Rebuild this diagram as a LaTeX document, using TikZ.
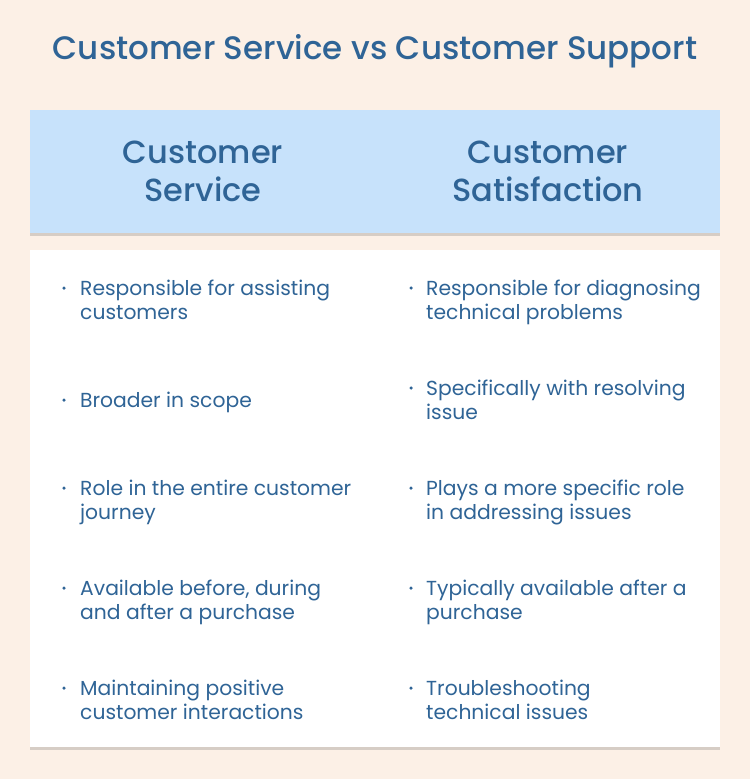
\documentclass[tikz,border=0pt]{standalone}
\usepackage{fontspec}
\setmainfont{Poppins}
\newfontfamily\pmed{Poppins Medium}
\usetikzlibrary{shadows}
\definecolor{bg}{HTML}{FCF0E6}
\definecolor{ink}{HTML}{2F6496}
\definecolor{head}{HTML}{C7E2FB}
\tikzset{
  card/.style={draw=none, drop shadow={shadow xshift=0pt, shadow yshift=-2.5pt, opacity=0.25, fill=black!60}},
  htext/.style={font=\pmed\fontsize{32}{38}\selectfont, text=ink, anchor=base, inner sep=0pt},
  item/.style={font=\fontsize{20.3}{24}\selectfont, text=ink, anchor=base west, inner sep=0pt},
  dot/.style={circle, fill=ink, inner sep=0pt, minimum size=3.5pt},
}
\begin{document}
\begin{tikzpicture}[x=1pt,y=-1pt]
\fill[bg] (0,0) rectangle (750,779);
\useasboundingbox (0,0) rectangle (750,779);
\node[font=\pmed\fontsize{32.5}{36}\selectfont, text=ink, anchor=base, inner sep=0pt] (title) at (375,59) {Customer Service vs Customer Support};
\path[card, fill=head] (30,110) rectangle (720,233);
\path[card, fill=white] (30,250) rectangle (720,747);
\node[htext] (h1a) at (203,163) {Customer};
\node[htext] (h1b) at (203,201) {Service};
\node[htext] (h2a) at (548,163) {Customer};
\node[htext] (h2b) at (548,201) {Satisfaction};
% left column
\foreach \y/\ta/\tb [count=\i] in {295/{Responsible for assisting}/{customers},495/{Role in the entire customer}/{journey},595/{Available before, during}/{and after a purchase},695/{Maintaining positive}/{customer interactions}}{
  \node[item] (la\i) at (80,\y) {\ta};
  \node[item] (lb\i) at (80,\y+24) {\tb};
  \node[dot] (ld\i) at (64,\y-7) {};
}
\node[item] (la0) at (80,407) {Broader in scope};
\node[dot] (ld0) at (64,400) {};
% right column
\foreach \y/\ta/\tb [count=\i] in {295/{Responsible for diagnosing}/{technical problems},395/{Specifically with resolving}/{issue},495/{Plays a more specific role}/{in addressing issues},595/{Typically available after a}/{purchase},695/{Troubleshooting}/{technical issues}}{
  \node[item] (ra\i) at (426,\y) {\ta};
  \node[item] (rb\i) at (426,\y+24) {\tb};
  \node[dot] (rd\i) at (411,\y-7) {};
}
\end{tikzpicture}
\end{document}
